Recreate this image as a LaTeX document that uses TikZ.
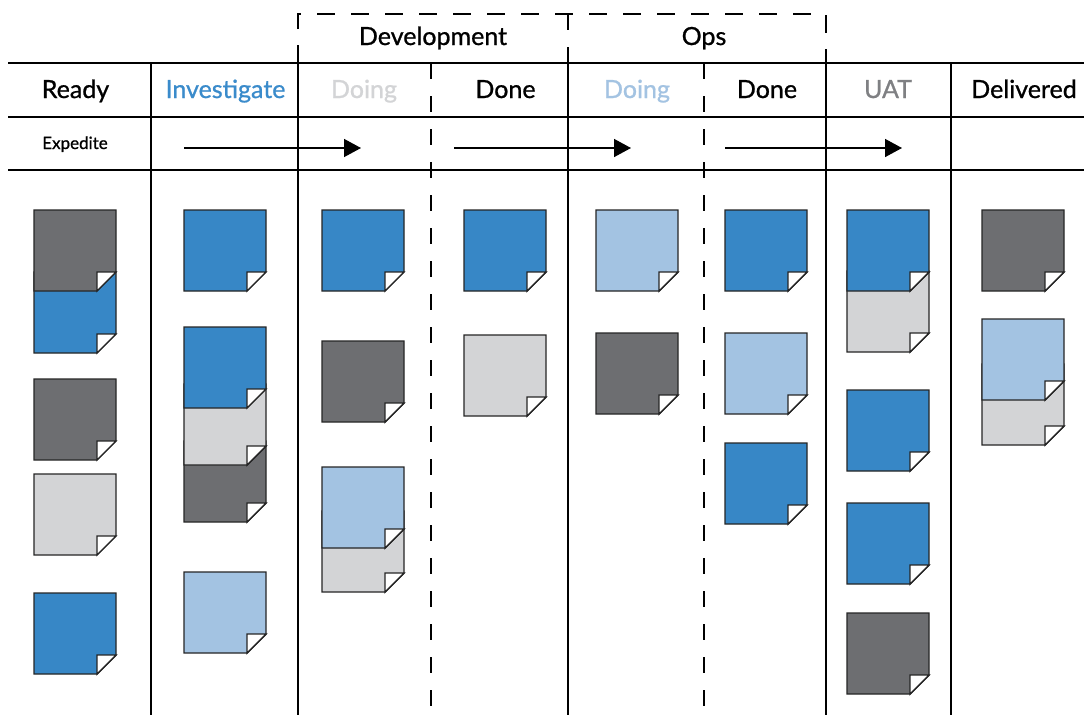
\documentclass[tikz,border=0pt]{standalone}
\usepackage{fontspec}
\setmainfont{Lato}
\newfontfamily\hdrfont{Lato}[FakeBold=0.9]
\usetikzlibrary{arrows.meta}
\definecolor{nblue}{HTML}{3787C6}
\definecolor{ndark}{HTML}{6D6E71}
\definecolor{nlgray}{HTML}{D3D4D6}
\definecolor{nlblue}{HTML}{A3C3E2}
\definecolor{tblue}{HTML}{3A8BCB}
\definecolor{tgray}{HTML}{7F8083}
\definecolor{tlgray}{HTML}{D3D4D6}
\definecolor{tlblue}{HTML}{A3C3E2}
\newcommand\stickynote[3]{%
  \draw[notebd, fill=#3] (#1,#2) -- ({#1+82},#2) -- ({#1+82},{#2+62}) -- ({#1+63},{#2+81}) -- (#1,{#2+81}) -- cycle;
  \draw[notebd, fill=white] ({#1+63},{#2+81}) -- ({#1+63},{#2+62}) -- ({#1+82},{#2+62}) -- cycle;
}
\begin{document}
\begin{tikzpicture}[x=1pt,y=-1pt,
  notebd/.style={draw=black!85, line width=1.4pt, line join=miter},
  gridline/.style={line width=2pt, draw=black},
  dashv/.style={line width=1.8pt, dash pattern=on 16pt off 17pt},
  dashh/.style={line width=1.8pt, dash pattern=on 18pt off 16pt},
  hdr/.style={anchor=base, inner sep=0pt, font=\hdrfont\fontsize{25}{30}\selectfont},
  smalltxt/.style={anchor=base, inner sep=0pt, font=\hdrfont\fontsize{17}{20}\selectfont},
  flow/.style={line width=1.5pt, -{Triangle[length=17pt,width=18pt]}}]
\useasboundingbox (0,0) rectangle (1084,715);
\fill[white] (0,0) rectangle (1084,715);

% grid
\foreach \yy in {63,117,170} \draw[gridline] (8,\yy) -- (1084,\yy);
\foreach \xx in {151,298,568,826,951} \draw[gridline] (\xx,63) -- (\xx,715);
\foreach \xx in {431,704} \draw[dashv] (\xx,63) -- (\xx,715);
\draw[dashh] (298,63) -- (298,14) -- (826,14) -- (826,63);
\draw[dashv] (568,14) -- (568,63);

% group labels
\node[hdr] (dev) at (433,45) {Development};
\node[hdr] (ops) at (704,45) {Ops};

% column headers
\node[hdr] (ready) at (75.5,98) {Ready};
\node[hdr, text=tblue] (inv) at (225.5,98) {Investigate};
\node[hdr, text=tlgray] (devdoing) at (364,98) {Doing};
\node[hdr] (devdone) at (505.5,98) {Done};
\node[hdr, text=tlblue] (opsdoing) at (637,98) {Doing};
\node[hdr] (opsdone) at (767,98) {Done};
\node[hdr, text=tgray] (uat) at (888,98) {UAT};
\node[hdr] (deliv) at (1024,98) {Delivered};

\node[smalltxt] (exp) at (75,149) {Expedite};

% expedite arrows
\coordinate (a1s) at (184,148); \coordinate (a1e) at (361,148);
\coordinate (a2s) at (454,148); \coordinate (a2e) at (631,148);
\coordinate (a3s) at (725,148); \coordinate (a3e) at (902,148);
\draw[flow] (a1s) -- (a1e);
\draw[flow] (a2s) -- (a2e);
\draw[flow] (a3s) -- (a3e);

% Ready
\stickynote{34}{272}{nblue}
\stickynote{34}{210}{ndark}
\stickynote{34}{379}{ndark}
\stickynote{34}{474}{nlgray}
\stickynote{34}{593}{nblue}

% Investigate
\stickynote{184}{210}{nblue}
\stickynote{184}{441}{ndark}
\stickynote{184}{384}{nlgray}
\stickynote{184}{327}{nblue}
\stickynote{184}{572}{nlblue}

% Dev Doing
\stickynote{322}{210}{nblue}
\stickynote{322}{341}{ndark}
\stickynote{322}{511}{nlgray}
\stickynote{322}{467}{nlblue}

% Dev Done
\stickynote{464}{210}{nblue}
\stickynote{464}{335}{nlgray}

% Ops Doing
\stickynote{596}{210}{nlblue}
\stickynote{596}{333}{ndark}

% Ops Done
\stickynote{725}{210}{nblue}
\stickynote{725}{333}{nlblue}
\stickynote{725}{443}{nblue}

% UAT
\stickynote{847}{271}{nlgray}
\stickynote{847}{210}{nblue}
\stickynote{847}{390}{nblue}
\stickynote{847}{503}{nblue}
\stickynote{847}{613}{ndark}

% Delivered
\stickynote{982}{210}{ndark}
\stickynote{982}{364}{nlgray}
\stickynote{982}{319}{nlblue}
\end{tikzpicture}
\end{document}
